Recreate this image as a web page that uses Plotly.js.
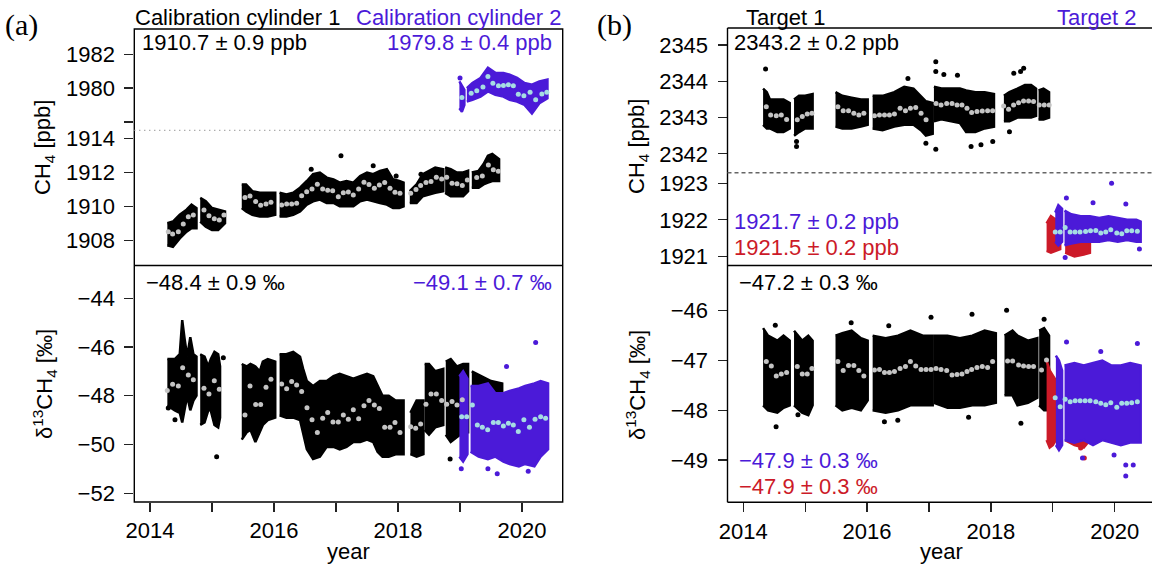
<!DOCTYPE html>
<html>
<head>
<meta charset="utf-8">
<script src="https://cdn.plot.ly/plotly-3.0.1.min.js"></script>
<style>html,body{margin:0;padding:0;background:#fff;}#chart{width:1152px;height:568px;}</style>
</head>
<body>
<div id="chart"></div>
<script>
// ---------------- DATA (decimal years) ----------------
const yearTicks = [2014, 2016, 2018, 2020];
const yearLabels = ['2014', '2016', '2018', '2020'];
const yearMinorTicks = [2015, 2017, 2019];

// (a) CH4, calibration cylinder 1 (envelope of the point cloud, clusters separated by null)
const cal1CH4X = [2014.28,2014.37,2014.48,2014.59,2014.67,2014.75,null,
  2014.81,2014.9,2015.0,2015.1,2015.21,null,
  2015.48,2015.55,2015.65,2015.77,2015.9,2016.02,null,
  2016.09,2016.2,2016.31,2016.42,2016.53,2016.63,2016.74,2016.85,2016.96,2017.06,2017.17,2017.28,2017.39,2017.5,2017.6,2017.71,2017.82,2017.92,2018.02,2018.09,null,
  2018.19,2018.3,2018.4,2018.5,2018.6,2018.73,null,
  2018.76,2018.85,2018.95,2019.05,2019.13,null,
  2019.19,2019.3,2019.38,2019.45,2019.52,2019.63];
const cal1CH4Hi = [1909.0,1909.1,1909.5,1909.8,1910.1,1909.9,null,
  1910.5,1910.3,1909.9,1909.8,1909.7,null,
  1911.3,1911.3,1910.9,1910.8,1910.8,1910.8,null,
  1910.8,1910.7,1910.8,1911.1,1911.5,1911.9,1912.0,1911.7,1911.6,1911.4,1911.5,1911.4,1911.8,1912.0,1911.9,1912.1,1912.2,1911.6,1911.5,1911.4,null,
  1910.9,1911.3,1911.9,1912.1,1912.3,1912.2,null,
  1912.3,1912.2,1912.0,1912.0,1912.1,null,
  1912.0,1912.1,1912.5,1913.0,1913.1,1912.8];
const cal1CH4Lo = [1907.7,1907.6,1908.1,1908.5,1908.7,1908.7,null,
  1909.1,1908.8,1908.6,1908.6,1909.0,null,
  1909.9,1909.7,1909.5,1909.4,1909.4,1909.5,null,
  1909.4,1909.4,1909.5,1909.7,1910.1,1910.3,1910.4,1910.2,1910.2,1910.0,1910.0,1910.0,1910.3,1910.4,1910.3,1910.2,1910.1,1909.9,1909.9,1910.0,null,
  1910.2,1910.2,1910.6,1910.7,1910.8,1910.9,null,
  1910.8,1910.6,1910.6,1910.6,1910.9,null,
  1911.1,1911.1,1911.3,1911.4,1911.5,1911.5];
const cal1CH4MeanX = [2014.295,2014.365,2014.457,2014.537,2014.618,2014.699,2014.871,2014.951,2015.037,2015.118,2015.193,2015.532,2015.613,2015.704,2015.785,2015.871,2015.951,2016.123,2016.204,2016.285,2016.365,2016.446,2016.527,2016.613,2016.699,2016.785,2016.866,2016.946,2017.037,2017.118,2017.199,2017.279,2017.365,2017.451,2017.532,2017.618,2017.699,2017.785,2017.871,2017.951,2018.032,2018.204,2018.29,2018.365,2018.451,2018.532,2018.618,2018.704,2018.785,2018.871,2018.951,2019.037,2019.118,2019.269,2019.36,2019.457,2019.537,2019.618];
const cal1CH4MeanY = [1908.5,1908.36,1908.5,1908.95,1909.39,1909.49,1909.78,1909.45,1909.27,1909.19,1909.49,1910.53,1910.61,1910.28,1910.06,1910.14,1910.24,1910.08,1910.14,1910.14,1910.18,1910.63,1910.87,1911.03,1911.31,1911.03,1910.95,1910.93,1910.57,1910.81,1910.85,1910.67,1911.03,1911.43,1911.29,1911.07,1911.27,1911.41,1911.07,1910.83,1910.77,1910.77,1911.0,1911.23,1911.41,1911.47,1911.72,1911.62,1911.72,1911.37,1911.33,1911.23,1911.56,1911.7,1911.8,1912.44,1912.16,1912.08];
const cal1CH4OutX = [2017.08,2017.6,2017.97,2018.37,2016.6];
const cal1CH4OutY = [1913.0,1912.4,1911.8,1911.9,1912.2];

// (a) CH4, calibration cylinder 2
const cal2CH4X = [2018.99,2019.03,2019.07,null,2019.11,2019.2,2019.33,2019.45,2019.57,2019.7,2019.8,2019.92,2020.04,2020.16,2020.28,2020.41];
const cal2CH4Hi = [1980.4,1980.1,1979.9,null,1980.0,1980.3,1980.6,1981.2,1980.9,1980.9,1980.8,1980.6,1980.3,1980.2,1980.4,1980.5];
const cal2CH4Lo = [1978.8,1978.6,1979.0,null,1979.2,1979.3,1979.5,1979.8,1979.6,1979.5,1979.3,1979.2,1979.0,1978.5,1979.1,1979.4];
const cal2CH4MeanX = [2019.03,2019.18,2019.27,2019.37,2019.45,2019.53,2019.62,2019.7,2019.78,2019.86,2019.94,2020.03,2020.13,2020.22,2020.32,2020.4];
const cal2CH4MeanY = [1979.45,1979.7,1979.84,1980.06,1980.68,1980.29,1980.14,1980.16,1980.2,1980.14,1979.63,1979.55,1979.75,1979.31,1979.65,1979.75];
const cal2CH4OutX = [2019.0];
const cal2CH4OutY = [1980.6];

// (a) d13C, calibration cylinder 1
const cal1D13X = [2014.28,2014.4,2014.48,2014.52,2014.56,2014.6,2014.65,2014.7,2014.75,null,
  2014.81,2014.88,2014.94,2014.98,2015.04,2015.1,2015.13,null,
  2015.48,2015.56,2015.62,2015.7,2015.77,2015.82,2015.9,2016.02,null,
  2016.09,2016.2,2016.31,2016.42,2016.47,2016.53,2016.63,2016.74,2016.85,2016.96,2017.06,2017.17,2017.28,2017.39,2017.5,2017.6,2017.67,2017.75,2017.85,2017.96,2018.09,null,
  2018.2,2018.3,2018.41,null,
  2018.43,2018.5,2018.6,2018.73,null,
  2018.77,2018.85,2018.95,2019.05,2019.13,null,
  2019.19,2019.35,2019.5,2019.68];
const cal1D13Hi = [-46.5,-46.5,-46.3,-44.9,-45.7,-46.4,-45.6,-46.3,-46.4,null,
  -46.3,-46.4,-46.8,-46.5,-46.2,-46.3,-46.8,null,
  -46.7,-46.8,-46.7,-46.8,-47.0,-46.6,-46.5,-46.6,null,
  -46.3,-46.3,-46.2,-46.4,-46.9,-47.4,-47.6,-47.4,-47.4,-47.2,-47.1,-47.2,-47.3,-47.2,-47.1,-47.2,-47.6,-48.0,-48.0,-48.2,-48.2,null,
  -48.7,-48.2,-48.2,null,
  -46.7,-46.7,-47.0,-46.9,null,
  -46.6,-46.5,-46.8,-46.7,-46.7,null,
  -47.0,-47.2,-47.4,-47.5];
const cal1D13Lo = [-48.4,-48.6,-48.7,-49.1,-48.5,-48.0,-48.6,-48.2,-48.0,null,
  -49.2,-49.1,-48.6,-48.6,-49.2,-49.3,-48.9,null,
  -49.8,-49.5,-49.4,-49.9,-49.5,-49.2,-49.0,-48.9,null,
  -48.8,-48.9,-48.9,-49.0,-49.6,-50.2,-50.6,-50.5,-50.1,-50.1,-50.2,-50.1,-49.9,-49.9,-49.8,-49.9,-50.3,-50.5,-50.5,-50.4,-50.4,null,
  -50.4,-50.5,-50.4,null,
  -49.4,-49.6,-49.3,-49.2,null,
  -49.6,-49.9,-49.7,-49.5,-49.5,null,
  -49.8,-49.8,-49.8,-49.8];
const cal1D13MeanX = [2014.279,2014.365,2014.457,2014.527,2014.618,2014.699,2014.871,2014.951,2015.037,2015.118,2015.532,2015.613,2015.704,2015.785,2015.871,2015.951,2016.123,2016.204,2016.285,2016.365,2016.446,2016.532,2016.613,2016.699,2016.785,2016.866,2016.951,2017.037,2017.118,2017.199,2017.279,2017.365,2017.451,2017.532,2017.618,2017.699,2017.785,2017.871,2017.951,2018.032,2018.204,2018.285,2018.365,2018.451,2018.532,2018.618,2018.704,2018.785,2018.871,2018.951,2019.037];
const cal1D13MeanY = [-47.79,-47.53,-47.60,-46.85,-47.15,-47.35,-47.69,-47.93,-47.39,-47.74,-48.79,-47.60,-48.36,-48.36,-47.65,-47.33,-47.52,-47.72,-47.42,-47.56,-47.83,-48.49,-48.99,-49.51,-48.93,-48.69,-49.08,-49.08,-48.79,-48.97,-48.58,-48.95,-48.41,-48.20,-48.38,-48.52,-49.29,-49.29,-49.10,-49.51,-49.27,-49.34,-49.16,-48.35,-47.93,-47.93,-48.20,-48.35,-48.24,-48.38,-48.17];
const cal1D13OutX = [2015.075,2015.183,2014.295,2014.403,2018.84];
const cal1D13OutY = [-50.5,-46.44,-48.5,-48.99,-50.6];

// (a) d13C, calibration cylinder 2
const cal2D13X = [2018.99,2019.05,2019.12,null,2019.17,2019.3,2019.45,2019.57,2019.7,2019.8,2019.95,2020.05,2020.2,2020.3,2020.42];
const cal2D13Hi = [-47.2,-47.0,-47.3,null,-47.6,-47.6,-47.5,-47.9,-47.9,-47.8,-47.7,-47.6,-47.5,-47.4,-47.5];
const cal2D13Lo = [-50.5,-50.7,-50.4,null,-50.3,-50.5,-50.6,-50.5,-50.7,-50.8,-50.9,-50.8,-50.9,-50.5,-50.2];
const cal2D13MeanX = [2019.027,2019.108,2019.199,2019.279,2019.36,2019.446,2019.537,2019.618,2019.699,2019.78,2019.86,2019.94,2020.03,2020.12,2020.21,2020.3,2020.38];
const cal2D13MeanY = [-48.86,-48.86,-48.38,-49.2,-49.29,-49.4,-49.1,-49.1,-49.24,-49.13,-49.2,-49.47,-48.99,-49.29,-48.97,-48.86,-48.92];
const cal2D13OutX = [2020.22,2019.75,2019.6,2019.45,2020.1,2019.02];
const cal2D13OutY = [-45.82,-46.8,-51.2,-51.0,-51.1,-51.0];

// (b) CH4, target 1
const tgt1CH4X = [2014.32,2014.38,2014.43,2014.55,2014.65,2014.75,null,
  2014.82,2014.9,2015.0,2015.12,null,
  2015.49,2015.6,2015.75,2015.9,2016.01,null,
  2016.09,2016.25,2016.44,2016.6,2016.75,2016.87,2016.95,2017.06,null,
  2017.08,2017.2,2017.35,2017.5,2017.6,2017.75,2017.9,2018.05,null,
  2018.21,2018.3,2018.43,2018.55,2018.65,2018.73,null,
  2018.77,2018.85,2018.94];
const tgt1CH4Hi = [2343.8,2343.7,2343.5,2343.5,2343.5,2343.4,null,
  2343.5,2343.6,2343.6,2343.65,null,
  2343.7,2343.6,2343.55,2343.5,2343.5,null,
  2343.6,2343.6,2343.7,2343.85,2343.8,2343.6,2343.45,2343.4,null,
  2343.85,2343.8,2343.8,2343.8,2343.75,2343.7,2343.7,2343.65,null,
  2343.6,2343.7,2343.8,2343.9,2343.9,2343.8,null,
  2343.75,2343.8,2343.7];
const tgt1CH4Lo = [2342.8,2342.7,2342.7,2342.6,2342.6,2342.7,null,
  2342.5,2342.6,2342.7,2342.7,null,
  2342.75,2342.7,2342.7,2342.75,2342.8,null,
  2342.7,2342.65,2342.75,2342.8,2342.8,2342.65,2342.5,2342.55,null,
  2342.9,2342.95,2342.9,2342.85,2342.6,2342.6,2342.7,2342.75,null,
  2342.9,2342.9,2343.0,2343.0,2343.0,2343.05,null,
  2342.95,2342.95,2343.0];
const tgt1CH4MeanX = [2014.372,2014.442,2014.533,2014.614,2014.700,2014.872,2014.953,2015.033,2015.109,2015.528,2015.614,2015.700,2015.786,2015.867,2015.948,2016.119,2016.200,2016.281,2016.361,2016.442,2016.533,2016.620,2016.700,2016.786,2016.872,2016.953,2017.114,2017.195,2017.286,2017.372,2017.453,2017.533,2017.614,2017.689,2017.775,2017.861,2017.947,2018.028,2018.206,2018.286,2018.367,2018.447,2018.528,2018.609,2018.689,2018.781,2018.862,2018.942];
const tgt1CH4MeanY = [2343.30,2343.07,2343.05,2343.07,2342.95,2342.94,2343.03,2343.10,2343.12,2343.30,2343.19,2343.19,2343.12,2343.07,2343.12,2343.05,2343.07,2343.07,2343.07,2343.10,2343.26,2343.19,2343.26,2343.28,2343.12,2342.94,2343.39,2343.35,2343.39,2343.39,2343.35,2343.35,2343.26,2343.14,2343.17,2343.18,2343.19,2343.19,2343.32,2343.23,2343.35,2343.41,2343.46,2343.46,2343.44,2343.35,2343.35,2343.35];
const tgt1CH4OutX = [2014.36,2014.86,2014.86,2016.66,2017.11,2017.11,2017.24,2017.46,2016.95,2017.11,2017.68,2017.84,2018.03,2018.3,2018.37,2018.48,2018.53];
const tgt1CH4OutY = [2344.34,2342.2,2342.34,2344.08,2344.54,2344.27,2344.19,2344.17,2342.29,2342.13,2342.2,2342.25,2342.34,2342.61,2344.22,2344.27,2344.36];

// (b) CH4, target 2 (blue-violet and red series)
const tgt2CH4X = [2019.04,2019.09,2019.15,null,2019.19,2019.3,2019.45,2019.6,2019.75,2019.9,2020.05,2020.2,2020.35,2020.42];
const tgt2CH4Hi = [1922.2,1922.4,1922.3,null,1922.25,1922.15,1922.1,1922.1,1922.05,1922.1,1922.05,1922.0,1922.0,1921.95];
const tgt2CH4Lo = [1921.4,1921.3,1921.4,null,1921.3,1921.35,1921.4,1921.4,1921.4,1921.45,1921.4,1921.45,1921.4,1921.4];
const tgt2RedCH4X = [2018.9,2018.97,2019.05,2019.12,null,2019.2,2019.35,2019.5,2019.6];
const tgt2RedCH4Hi = [1921.9,1922.1,1922.0,1922.2,null,1921.9,1921.8,1921.8,1921.7];
const tgt2RedCH4Lo = [1921.15,1921.1,1921.15,1921.2,null,1921.1,1921.0,1921.05,1921.1];
const tgt2CH4MeanX = [2019.04,2019.12,2019.2,2019.28,2019.36,2019.44,2019.53,2019.61,2019.695,2019.775,2019.856,2019.937,2020.034,2020.114,2020.195,2020.275,2020.366];
const tgt2CH4MeanY = [1921.67,1921.67,1921.79,1921.67,1921.67,1921.67,1921.68,1921.7,1921.71,1921.64,1921.67,1921.73,1921.64,1921.62,1921.7,1921.7,1921.69];
const tgt2CH4OutX = [2019.95,2019.22,2019.65,2020.18,2019.2,2020.4];
const tgt2CH4OutY = [1923.0,1922.6,1922.47,1922.43,1920.97,1921.2];

// (b) d13C, target 1
const tgt1D13X = [2014.32,2014.4,2014.55,2014.65,2014.75,null,
  2014.82,2014.95,2015.05,2015.12,null,
  2015.49,2015.6,2015.75,2015.9,2016.01,null,
  2016.09,2016.3,2016.5,2016.7,2016.9,2017.06,null,
  2017.08,2017.3,2017.5,2017.7,2017.9,2018.08,null,
  2018.22,2018.35,2018.43,2018.6,2018.75,null,
  2018.78,2018.86,2018.94];
const tgt1D13Hi = [-46.35,-46.5,-46.6,-46.5,-46.6,null,
  -46.4,-46.6,-46.5,-46.6,null,
  -46.5,-46.45,-46.4,-46.55,-46.6,null,
  -46.5,-46.55,-46.5,-46.4,-46.5,-46.5,null,
  -46.5,-46.5,-46.55,-46.5,-46.4,-46.45,null,
  -46.5,-46.4,-46.5,-46.6,-46.55,null,
  -46.4,-46.35,-46.5];
const tgt1D13Lo = [-47.9,-48.0,-48.05,-47.95,-47.9,null,
  -47.9,-48.05,-48.1,-47.9,null,
  -47.9,-48.0,-47.95,-48.0,-47.8,null,
  -48.0,-48.05,-48.0,-47.9,-47.9,-47.9,null,
  -47.85,-47.95,-47.95,-47.9,-47.9,-47.85,null,
  -47.7,-47.7,-47.9,-47.85,-47.75,null,
  -47.9,-48.0,-48.0];
const tgt1D13MeanX = [2014.372,2014.453,2014.533,2014.614,2014.700,2014.872,2014.953,2015.033,2015.109,2015.528,2015.614,2015.700,2015.786,2015.867,2015.948,2016.119,2016.200,2016.281,2016.361,2016.442,2016.533,2016.620,2016.700,2016.786,2016.872,2016.953,2017.033,2017.114,2017.195,2017.286,2017.372,2017.453,2017.533,2017.614,2017.689,2017.775,2017.861,2017.947,2018.028,2018.270,2018.351,2018.447,2018.528,2018.609,2018.689,2018.818,2018.899];
const tgt1D13MeanY = [-47.02,-47.11,-47.31,-47.27,-47.24,-47.12,-47.27,-47.27,-47.16,-47.02,-47.20,-47.10,-47.10,-47.20,-47.31,-47.19,-47.18,-47.24,-47.24,-47.22,-47.16,-47.12,-47.02,-47.11,-47.18,-47.18,-47.18,-47.16,-47.18,-47.20,-47.29,-47.28,-47.27,-47.22,-47.18,-47.14,-47.12,-47.14,-47.02,-47.01,-47.01,-47.09,-47.11,-47.12,-47.12,-47.19,-46.99];
const tgt1D13OutX = [2014.517,2014.53,2014.883,2015.743,2016.35,2017.033,2017.695,2018.254,2018.485,2016.28,2016.496,2017.64,2018.86];
const tgt1D13OutY = [-46.29,-48.33,-48.09,-46.24,-46.3,-46.13,-46.07,-45.99,-48.26,-48.23,-48.2,-48.14,-46.17];

// (b) d13C, target 2
const tgt2D13X = [2019.05,2019.1,2019.15,null,2019.19,2019.35,2019.5,2019.65,2019.8,2019.95,2020.1,2020.25,2020.42];
const tgt2D13Hi = [-46.9,-47.0,-47.2,null,-47.1,-47.05,-47.1,-47.05,-47.0,-47.1,-47.1,-47.05,-47.1];
const tgt2D13Lo = [-48.7,-48.8,-48.7,null,-48.6,-48.65,-48.6,-48.7,-48.6,-48.65,-48.7,-48.65,-48.65];
const tgt2RedD13X = [2018.9,2018.95,2019.0,2019.05,2019.1,null,2019.2,2019.35,2019.5,2019.6];
const tgt2RedD13Hi = [-47.0,-47.2,-47.3,-47.4,-47.5,null,-47.3,-47.3,-47.4,-47.5];
const tgt2RedD13Lo = [-48.6,-48.75,-48.7,-48.6,-48.7,null,-48.6,-48.7,-48.75,-48.6];
const tgt2D13MeanX = [2019.039,2019.12,2019.2,2019.281,2019.362,2019.442,2019.523,2019.603,2019.695,2019.775,2019.856,2019.937,2020.034,2020.114,2020.195,2020.275,2020.366];
const tgt2D13MeanY = [-47.75,-47.93,-47.78,-47.83,-47.81,-47.81,-47.81,-47.81,-47.83,-47.86,-47.89,-47.85,-47.94,-47.86,-47.86,-47.85,-47.83];
const tgt2D13OutX = [2020.367,2019.222,2019.775,2020.179,2020.179,2020.3,2019.99,2019.48];
const tgt2D13OutY = [-46.66,-46.63,-46.82,-49.1,-49.32,-49.1,-48.9,-48.96];
const tgt2RedD13OutX = [2019.51,2019.45];
const tgt2RedD13OutY = [-48.96,-48.76];

// ---------------- STYLE ----------------
const W = 1152, H = 568;
const FONT = 'Liberation Sans, Arial, Helvetica, sans-serif';
const FS = 22;
const BLACK = '#000000', PURPLE = '#4b1ad8', RED = '#cc1a28';
const MEAN_GRAY = '#c4c4c4', MEAN_CYAN = '#a6dde3';

function envTraces(xs, lo, hi, color, xa, ya) {
  const out = [];
  let idx = [];
  const flush = () => {
    if (idx.length) {
      const r = idx.slice().reverse();
      out.push({
        type: 'scatter', mode: 'lines',
        x: idx.map(i => xs[i]).concat(r.map(i => xs[i])),
        y: idx.map(i => hi[i]).concat(r.map(i => lo[i])),
        fill: 'toself', fillcolor: color,
        line: {color: color, width: 2.5, shape: 'linear'},
        xaxis: xa, yaxis: ya, hoverinfo: 'skip', showlegend: false
      });
    }
    idx = [];
  };
  xs.forEach((v, i) => { if (v === null) flush(); else idx.push(i); });
  flush();
  return out;
}
function pts(x, y, color, size, xa, ya) {
  return {type: 'scatter', mode: 'markers', x: x, y: y,
    marker: {color: color, size: size, line: {width: 0}},
    xaxis: xa, yaxis: ya, hoverinfo: 'skip', showlegend: false};
}

const traces = [].concat(
  // panel (a)
  envTraces(cal1CH4X, cal1CH4Lo, cal1CH4Hi, BLACK, 'x', 'y2'),
  [pts(cal1CH4OutX, cal1CH4OutY, BLACK, 5, 'x', 'y2')],
  envTraces(cal2CH4X, cal2CH4Lo, cal2CH4Hi, PURPLE, 'x', 'y3'),
  [pts(cal2CH4OutX, cal2CH4OutY, PURPLE, 5, 'x', 'y3')],
  envTraces(cal1D13X, cal1D13Lo, cal1D13Hi, BLACK, 'x', 'y'),
  [pts(cal1D13OutX, cal1D13OutY, BLACK, 5, 'x', 'y')],
  envTraces(cal2D13X, cal2D13Lo, cal2D13Hi, PURPLE, 'x', 'y'),
  [pts(cal2D13OutX, cal2D13OutY, PURPLE, 5, 'x', 'y')],
  [pts(cal1CH4MeanX, cal1CH4MeanY, MEAN_GRAY, 5, 'x', 'y2'),
   pts(cal2CH4MeanX, cal2CH4MeanY, MEAN_CYAN, 5, 'x', 'y3'),
   pts(cal1D13MeanX, cal1D13MeanY, MEAN_GRAY, 5, 'x', 'y'),
   pts(cal2D13MeanX, cal2D13MeanY, MEAN_CYAN, 5, 'x', 'y')],
  // panel (b)
  envTraces(tgt1CH4X, tgt1CH4Lo, tgt1CH4Hi, BLACK, 'x2', 'y6'),
  [pts(tgt1CH4OutX, tgt1CH4OutY, BLACK, 5, 'x2', 'y6')],
  envTraces(tgt2RedCH4X, tgt2RedCH4Lo, tgt2RedCH4Hi, RED, 'x2', 'y5'),
  envTraces(tgt2CH4X, tgt2CH4Lo, tgt2CH4Hi, PURPLE, 'x2', 'y5'),
  [pts(tgt2CH4OutX, tgt2CH4OutY, PURPLE, 5, 'x2', 'y5')],
  envTraces(tgt1D13X, tgt1D13Lo, tgt1D13Hi, BLACK, 'x2', 'y4'),
  [pts(tgt1D13OutX, tgt1D13OutY, BLACK, 5, 'x2', 'y4')],
  envTraces(tgt2RedD13X, tgt2RedD13Lo, tgt2RedD13Hi, RED, 'x2', 'y4'),
  envTraces(tgt2D13X, tgt2D13Lo, tgt2D13Hi, PURPLE, 'x2', 'y4'),
  [pts(tgt2RedD13OutX, tgt2RedD13OutY, RED, 5, 'x2', 'y4'),
   pts(tgt2D13OutX, tgt2D13OutY, PURPLE, 5, 'x2', 'y4'),
   pts(tgt1CH4MeanX, tgt1CH4MeanY, MEAN_GRAY, 5, 'x2', 'y6'),
   pts(tgt2CH4MeanX, tgt2CH4MeanY, MEAN_CYAN, 5, 'x2', 'y5'),
   pts(tgt1D13MeanX, tgt1D13MeanY, MEAN_GRAY, 5, 'x2', 'y4'),
   pts(tgt2D13MeanX, tgt2D13MeanY, MEAN_CYAN, 5, 'x2', 'y4')]
);

// ---------------- LAYOUT ----------------
const px = v => v / W;          // pixel x -> paper
const py = v => 1 - v / H;      // pixel y -> paper
function ax(extra) {
  return Object.assign({
    showgrid: false, zeroline: false, showline: false,
    ticks: 'outside', ticklen: 9, tickwidth: 1.3, tickcolor: '#222',
    tickfont: {family: FONT, size: FS, color: '#000'},
    ticklabelstandoff: 5, fixedrange: true
  }, extra);
}
const minorX = {tickvals: yearMinorTicks, ticks: 'outside', ticklen: 9, tickwidth: 1.3, tickcolor: '#222', showgrid: false};
const AL = 134.3, AR = 562.7, BL = 727.5;
const layout = {
  width: W, height: H,
  margin: {l: 0, r: 0, t: 0, b: 0},
  paper_bgcolor: '#fff', plot_bgcolor: 'rgba(0,0,0,0)',
  showlegend: false,
  xaxis: ax({domain: [px(AL), px(AR)], range: [2013.747, 2020.656], anchor: 'y', tickvals: yearTicks, ticktext: yearLabels, ticklabelstandoff: 0, minor: minorX}),
  xaxis2: ax({domain: [px(BL), 1], range: [2013.745, 2020.603], anchor: 'y4', tickvals: yearTicks, ticktext: yearLabels, ticklabelstandoff: 0, minor: minorX}),
  yaxis: ax({domain: [py(502), py(265.5)], range: [-52.36, -42.66], anchor: 'x', tickvals: [-52, -50, -48, -46, -44]}),
  yaxis2: ax({domain: [py(265.5), py(130.3)], range: [1906.5, 1914.5], anchor: 'x', tickvals: [1908, 1910, 1912, 1914]}),
  yaxis3: ax({domain: [py(130.3), py(29)], range: [1977.5, 1983.5], anchor: 'x', tickvals: [1980, 1982],
    minor: {tickvals: [1978], ticks: 'outside', ticklen: 9, tickwidth: 1.3, tickcolor: '#222', showgrid: false}}),
  yaxis4: ax({domain: [py(502.3), py(265.5)], range: [-49.85, -45.09], anchor: 'x2', tickvals: [-49, -48, -47, -46]}),
  yaxis5: ax({domain: [py(265.5), py(172.7)], range: [1920.75, 1923.29], anchor: 'x2', tickvals: [1921, 1922, 1923]}),
  yaxis6: ax({domain: [py(172.7), py(28)], range: [2341.48, 2345.47], anchor: 'x2', tickvals: [2342, 2343, 2344, 2345]}),
  shapes: [
    {type: 'rect', xref: 'paper', yref: 'paper', x0: px(AL), x1: px(AR), y0: py(502), y1: py(29), line: {color: '#000', width: 1.4}},
    {type: 'line', xref: 'paper', yref: 'paper', x0: px(AL), x1: px(AR), y0: py(265.5), y1: py(265.5), line: {color: '#000', width: 1.4}},
    {type: 'line', xref: 'paper', yref: 'paper', x0: px(AL), x1: px(AR), y0: py(130.3), y1: py(130.3), line: {color: '#8a8a8a', width: 1.3, dash: '1px,4px'}},
    {type: 'line', xref: 'paper', yref: 'paper', x0: px(BL), x1: 1, y0: py(28), y1: py(28), line: {color: '#000', width: 1.4}},
    {type: 'line', xref: 'paper', yref: 'paper', x0: px(BL), x1: px(BL), y0: py(502.3), y1: py(28), line: {color: '#000', width: 1.4}},
    {type: 'line', xref: 'paper', yref: 'paper', x0: px(BL), x1: 1, y0: py(502.3), y1: py(502.3), line: {color: '#000', width: 1.4}},
    {type: 'line', xref: 'paper', yref: 'paper', x0: px(BL), x1: 1, y0: py(265.5), y1: py(265.5), line: {color: '#000', width: 1.4}},
    {type: 'line', xref: 'paper', yref: 'paper', x0: px(BL), x1: 1, y0: py(172.7), y1: py(172.7), line: {color: '#666', width: 1.4, dash: '4px,3px'}}
  ],
  annotations: []
};
function ann(text, x, y, xanchor, color, size, extra) {
  layout.annotations.push(Object.assign({
    text: text, xref: 'paper', yref: 'paper', x: px(x), y: py(y),
    xanchor: xanchor, yanchor: 'middle', showarrow: false,
    font: {family: FONT, size: size || FS, color: color || '#000'}, borderpad: 0
  }, extra || {}));
}
const SERIF = {family: 'Liberation Serif, DejaVu Serif, serif', size: 30, color: '#000'};
// panel labels
ann('(a)', 4, 25, 'left', '#000', 30, {font: SERIF});
ann('(b)', 596, 25, 'left', '#000', 30, {font: SERIF});
// headers
ann('Calibration cylinder 1', 134, 17, 'left', '#000');
ann('Calibration cylinder 2', 562, 17, 'right', PURPLE);
ann('Target 1', 745, 17, 'left', '#000');
ann('Target 2', 1138, 17, 'right', PURPLE);
// in-panel statistics
ann('1910.7 ± 0.9 ppb', 141, 43, 'left', '#000');
ann('1979.8 ± 0.4 ppb', 553, 43, 'right', PURPLE);
ann('−48.4 ± 0.9 ‰', 145, 282, 'left', '#000');
ann('−49.1 ± 0.7 ‰', 553, 282, 'right', PURPLE);
ann('2343.2 ± 0.2 ppb', 733, 43, 'left', '#000');
ann('1921.7 ± 0.2 ppb', 733, 221, 'left', PURPLE);
ann('1921.5 ± 0.2 ppb', 733, 248, 'left', RED);
ann('−47.2 ± 0.3 ‰', 738, 282, 'left', '#000');
ann('−47.9 ± 0.3 ‰', 738, 460, 'left', PURPLE);
ann('−47.9 ± 0.3 ‰', 738, 486, 'left', RED);
// axis titles
ann('CH<sub>4</sub> [ppb]', 44, 148, 'center', '#000', FS, {textangle: -90});
ann('δ<sup>13</sup>CH<sub>4</sub> [‰]', 44, 384, 'center', '#000', FS, {textangle: -90});
ann('CH<sub>4</sub> [ppb]', 638, 147, 'center', '#000', FS, {textangle: -90});
ann('δ<sup>13</sup>CH<sub>4</sub> [‰]', 637, 385, 'center', '#000', FS, {textangle: -90});
ann('year', 348.5, 551, 'center', '#000', FS);
ann('year', 941, 551, 'center', '#000', FS);

Plotly.newPlot('chart', traces, layout, {staticPlot: true, displayModeBar: false});
</script>
</body>
</html>
